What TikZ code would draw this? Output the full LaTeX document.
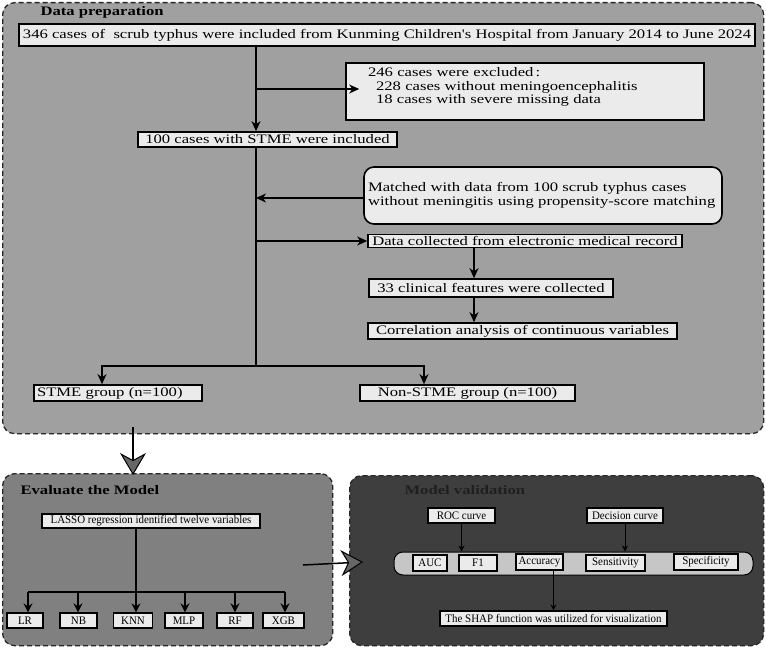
\documentclass[tikz,border=0pt]{standalone}
\usepackage{fontspec}
\setmainfont{Liberation Serif}
\newfontfamily\widefont[FakeStretch=1.28]{Liberation Serif}
\newfontfamily\narrowfont[FakeStretch=0.95]{Liberation Serif}
\usetikzlibrary{arrows.meta}
\definecolor{panelA}{HTML}{A0A0A0}
\definecolor{panelB}{HTML}{808080}
\definecolor{panelC}{HTML}{3E3E3E}
\definecolor{boxfill}{HTML}{EBEBEB}
\definecolor{barfill}{HTML}{C6C6C6}
\begin{document}
\begin{tikzpicture}[x=1pt,y=-1pt,
  font=\widefont\fontsize{13}{13.5}\selectfont,
  panel/.style={draw=black!85, dash pattern=on 5pt off 3pt, line width=1.3pt, rounded corners=12pt, anchor=north west, inner sep=0pt},
  box/.style={draw, line width=1.6pt, fill=boxfill, inner sep=0pt},
  sbox/.style={draw, line width=1.3pt, fill=boxfill, inner sep=0pt, font=\narrowfont\fontsize{11.5}{12}\selectfont},
  ln/.style={line width=1.3pt},
  arr/.style={-{Stealth[length=10pt,width=9pt,inset=3pt]}, line width=1.3pt},
  marr/.style={-{Stealth[length=9pt,width=9pt,inset=3pt]}, line width=1.2pt},
  sarr/.style={-{Stealth[length=6pt,width=6pt,inset=2pt]}, line width=0.8pt},
  bigarr/.style={-{Stealth[length=22pt,width=26pt,inset=7pt,fill=black!60,line width=1pt]}, line width=1.5pt},
  ttl/.style={anchor=west, font=\widefont\bfseries\fontsize{13}{13.5}\selectfont}]
\useasboundingbox (0,0) rectangle (766,650);

% ---------- panels
\node[panel, fill=panelA, minimum width=761pt, minimum height=431pt] (P1) at (2,2) {};
\node[panel, fill=panelB, minimum width=330pt, minimum height=172pt] (P2) at (2,473) {};
\node[panel, fill=panelC, minimum width=414pt, minimum height=170pt] (P3) at (349,475) {};

% ---------- data preparation
\node[ttl] (t1) at (37,12) {Data preparation};
\node[box, minimum width=736pt, minimum height=22pt] (b1) at (387,35)
  {346 cases of\ \ scrub typhus were included from Kunming Children's Hospital from January 2014 to June 2024};
\node[box, minimum width=358pt, minimum height=57pt, text width=314pt, inner xsep=22pt, align=left] (excl) at (525,91.5)
  {246 cases were excluded\,:\\
   \hspace*{8pt}228 cases without meningoencephalitis\\
   \hspace*{8pt}18 cases with severe missing data\\[-2pt]\mbox{}};
\node[box, minimum width=259pt, minimum height=15pt] (c100) at (267.5,139.5) {100 cases with STME were included};
\node[box, rounded corners=10pt, minimum width=358pt, minimum height=57pt, text width=350pt, inner xsep=4pt, align=left] (match) at (543,195.5)
  {Matched with data from 100 scrub typhus cases\\without meningitis using propensity-score matching};
\node[box, minimum width=314pt, minimum height=13pt] (dcoll) at (525,241) {Data collected from electronic medical record};
\node[box, minimum width=244pt, minimum height=18pt] (c33) at (491,288) {33 clinical features were collected};
\node[box, minimum width=309pt, minimum height=16pt] (corr) at (522.5,331) {Correlation analysis of continuous variables};
\node[box, minimum width=168pt, minimum height=16pt, text width=162pt, inner xsep=3pt, align=left] (stme) at (118,393) {STME group (n=100)};
\node[box, minimum width=215pt, minimum height=16pt] (nstme) at (467.5,393) {Non-STME group (n=100)};

\coordinate (mx) at (256,0);
\coordinate (j1) at (256,89);
\coordinate (j2) at (256,198);
\coordinate (j3) at (256,241);
\coordinate (j4) at (256,366);
\coordinate (cx) at (474,0);
\coordinate (sx) at (102,0);
\coordinate (nx) at (424,0);

\draw[arr] (b1.south -| mx) -- (c100.north -| mx);
\draw[arr, shorten >=-14pt] (j1) -- (j1 -| excl.west);
\draw[ln] (c100.south -| mx) -- (j4);
\draw[arr] (j2 -| match.west) -- (j2);
\draw[arr] (j3) -- (dcoll.west);
\draw[arr] (dcoll.south -| cx) -- (c33.north -| cx);
\draw[arr] (c33.south -| cx) -- (corr.north -| cx);
\draw[arr] (j4) -- (j4 -| sx) -- (stme.north -| sx);
\draw[arr] (j4) -- (j4 -| nx) -- (nstme.north -| nx);

% ---------- big arrows between panels
\coordinate (a1) at (133,427);
\draw[bigarr, shorten >=-2pt] (a1) -- (a1 |- P2.north);
\coordinate (a2) at (303,565);
\coordinate (a3) at (363,562);
\draw[bigarr] (a2) -- (a3);

% ---------- evaluate the model
\node[ttl] (t2) at (17,490) {Evaluate the Model};
\node[sbox, minimum width=218pt, minimum height=14pt] (lasso) at (151,521) {LASSO regression identified twelve variables};
\node[sbox, minimum width=36pt, minimum height=15pt] (lr)  at (25,620.5)  {LR};
\node[sbox, minimum width=37pt, minimum height=15pt] (nb)  at (78.5,620.5) {NB};
\node[sbox, minimum width=39pt, minimum height=15pt] (knn) at (133,620.5) {KNN};
\node[sbox, minimum width=38pt, minimum height=15pt] (mlp) at (184,620.5) {MLP};
\node[sbox, minimum width=36pt, minimum height=15pt] (rf)  at (235,620.5) {RF};
\node[sbox, minimum width=41pt, minimum height=15pt] (xgb) at (283.5,620.5) {XGB};

\coordinate (klr) at (28,592);
\coordinate (knb) at (78,592);
\coordinate (kknn) at (136,592);
\coordinate (kmlp) at (185,592);
\coordinate (krf) at (235,592);
\coordinate (kxgb) at (285,592);
\draw[ln] (lasso.south -| kknn) -- (kknn);
\draw[ln] (klr) -- (kxgb);
\foreach \n in {lr,nb,knn,mlp,rf,xgb}
  \draw[marr] (k\n) -- (k\n |- \n.north);

% ---------- model validation
\node[ttl, text=black!88] (t3) at (401,490) {Model validation};
\node[sbox, minimum width=67pt, minimum height=15pt] (roc) at (461.5,515.5) {ROC curve};
\node[sbox, minimum width=76pt, minimum height=15pt] (dec) at (625,515.5) {Decision curve};
\node[draw, line width=1pt, fill=barfill, rounded corners=9pt, minimum width=359pt, minimum height=23pt, inner sep=0pt] (bar) at (573.5,563.5) {};
\node[sbox, minimum width=34pt, minimum height=16pt] (auc)  at (430,563)   {AUC};
\node[sbox, minimum width=38pt, minimum height=16pt] (f1)   at (478,563)   {F1};
\node[sbox, minimum width=47pt, minimum height=16pt] (acc)  at (539.5,562) {Accuracy};
\node[sbox, minimum width=59pt, minimum height=16pt] (sens) at (615.5,563) {Sensitivity};
\node[sbox, minimum width=64pt, minimum height=16pt] (spec) at (706,562)   {Specificity};
\node[sbox, minimum width=227pt, minimum height=15pt] (shap) at (553.5,618.5) {The SHAP function was utilized for visualization};

\draw[sarr] (roc.south) -- (roc.south |- bar.north);
\draw[sarr] (dec.south) -- (dec.south |- bar.north);
\draw[sarr] (acc.south -| shap.north) -- (shap.north);
\end{tikzpicture}
\end{document}
